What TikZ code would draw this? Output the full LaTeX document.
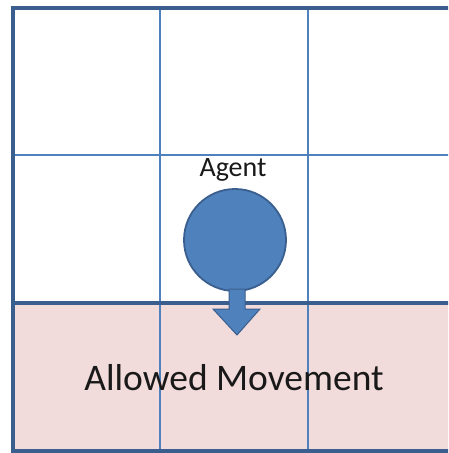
\documentclass[tikz,border=0pt]{standalone}
\usepackage{fontspec}
\setmainfont{Carlito}
\definecolor{gridblue}{HTML}{4F81BD}
\definecolor{frameblue}{HTML}{3A5F8E}
\definecolor{pinkfill}{HTML}{F2DCDB}
\tikzset{
  thinline/.style={draw=gridblue,line width=1.3pt},
  thickline/.style={draw=frameblue,line width=4pt},
  agentstyle/.style={circle,fill=gridblue,draw=frameblue,line width=1.8pt,minimum size=102pt,inner sep=0pt},
  lbl/.style={inner sep=0pt,text=black!90}
}
\begin{document}
\begin{tikzpicture}[x=1pt,y=-1pt]
\useasboundingbox (0,0) rectangle (448,453);
\clip (0,0) rectangle (448,453);
\fill[white] (0,0) rectangle (448,453);
\fill[pinkfill] (13,303) rectangle (470,451);
% thin grid lines
\draw[thinline] (160,8) -- (160,451);
\draw[thinline] (308,8) -- (308,451);
\draw[thinline] (13,155) -- (470,155);
% thick lines
\draw[thickline] (13,303) -- (470,303);
\draw[thickline] (470,8) -- (13,8) -- (13,451) -- (470,451);
% agent
\node[agentstyle] (agent) at (235,240) {};
\node[lbl,font=\fontsize{28}{32}\selectfont,anchor=base] (agentlbl) at (233,176) {Agent};
% arrow
\coordinate (tip) at (237,335);
\filldraw[fill=gridblue,draw=frameblue,line width=1pt]
  (229,289) -- (245,289) -- (245,309) -- (260,309) -- (tip) -- (213,309) -- (229,309) -- cycle;
\node[lbl,font=\fontsize{37.5}{42}\selectfont,anchor=base] (allowed) at (234,390) {Allowed Movement};
\end{tikzpicture}
\end{document}
